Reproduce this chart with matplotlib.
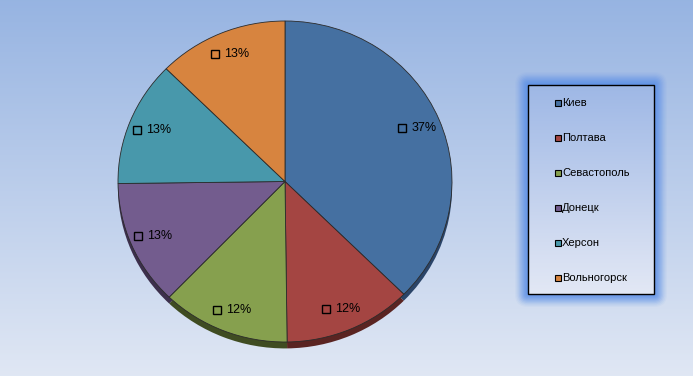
import numpy as np
import matplotlib
matplotlib.use("Agg")
from matplotlib import pyplot as plt
from matplotlib.patches import Rectangle, FancyBboxPatch

cities = ['Киев', 'Полтава', 'Севастополь', 'Донецк', 'Херсон', 'Вольногорск']
shares = [37.4, 12.4, 12.4, 12.6, 12.6, 12.6]
colors = ['#4570A1', '#A44542', '#86A04E', '#735C8E', '#4898AB', '#D7843F']
shadow_colors = ['#2a4468', '#5a2422', '#3f4c22', '#3c2f4c', '#265660', '#7a4a20']

plt.rcParams['font.family'] = ['Liberation Sans', 'DejaVu Sans']

W, H = 693, 376
fig = plt.figure(figsize=(W / 100, H / 100), dpi=100)

# background with vertical gradient
bg = fig.add_axes([0, 0, 1, 1])
bg.set_xlim(0, W)
bg.set_ylim(H, 0)
bg.axis('off')
top = np.array([0.592, 0.706, 0.886])
bot = np.array([0.878, 0.906, 0.957])
t = np.linspace(0, 1, 256)[:, None, None]
grad = top * (1 - t) + bot * t
bg.imshow(grad, extent=[0, W, H, 0], aspect='auto', zorder=0)

# legend box with a soft blue glow
lx0, ly0, lx1, ly1 = 528, 85, 654, 294
for i, a in enumerate(np.linspace(0.05, 0.3, 10)):
    pad = 13 - i * 1.3
    bg.add_patch(FancyBboxPatch((lx0 - pad, ly0 - pad), (lx1 - lx0) + 2 * pad,
                                (ly1 - ly0) + 2 * pad,
                                boxstyle='round,pad=0,rounding_size=%f' % max(pad, 1),
                                fc='#5b8fe6', ec='none', alpha=a, zorder=1))
lt = np.linspace(0, 1, 256)[:, None, None]
lgrad = np.array([0.62, 0.72, 0.90]) * (1 - lt) + np.array([0.89, 0.91, 0.96]) * lt
bg.imshow(lgrad, extent=[lx0, lx1, ly1, ly0], aspect='auto', zorder=2)
bg.add_patch(Rectangle((lx0, ly0), lx1 - lx0, ly1 - ly0, fc='none', ec='black', lw=1.0, zorder=3))
for i, (name, c) in enumerate(zip(cities, colors)):
    y = 103 + i * 35
    bg.plot(558, y, marker='s', ms=5, mfc=c, mec='black', mew=0.8, zorder=4)
    bg.text(562, y, name, fontsize=8, va='center', ha='left', zorder=4)

# pie
ax = fig.add_axes([118 / W, 1 - 342 / H, (452 - 118) / W, (342 - 21) / H])
ax.pie(shares, colors=shadow_colors, startangle=90, counterclock=False,
       radius=1, center=(0, -0.04), wedgeprops=dict(ec='none'))
wedges, texts, autotexts = ax.pie(
    shares, colors=colors, startangle=90, counterclock=False, radius=1,
    autopct=lambda p: '%d%%' % round(p), pctdistance=0.86,
    wedgeprops=dict(ec='#2b2b2b', lw=0.6), textprops=dict(fontsize=9))
ax.set_aspect('auto')
ax.set_xlim(-1, 1)
ax.set_ylim(-1, 1)
ax.axis('off')
for at in autotexts:
    x, y = at.get_position()
    at.set_position((x + 0.04, y))
    ax.plot(x - 0.09, y, marker='s', ms=5.5, mfc='none', mec='black', mew=1.0)

fig.savefig('out.png', dpi=100)
